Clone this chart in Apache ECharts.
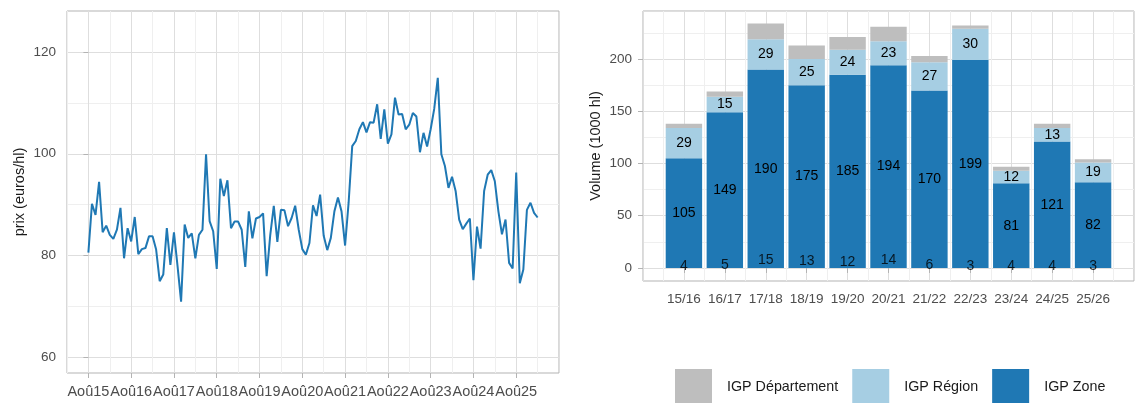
<!DOCTYPE html>
<html><head><meta charset="utf-8">
<script src="https://cdn.jsdelivr.net/npm/echarts@6/dist/echarts.min.js"></script>
<style>html,body{margin:0;padding:0;background:#fff}#c{width:1137px;height:403px}</style>
</head><body><div id="c"></div>
<script>
// ---- Left panel: monthly price, months counted from Aug 2015 ----
const priceTickMonths = [0, 12, 24, 36, 48, 60, 72, 84, 96, 108, 120];
const priceTickLabels = ['Aoû15','Aoû16','Aoû17','Aoû18','Aoû19','Aoû20','Aoû21','Aoû22','Aoû23','Aoû24','Aoû25'];
const priceYTicks = [60, 80, 100, 120];
const prices = [
  80.6, 90.2, 88.0, 94.5, 84.6, 85.9, 84.1, 83.3, 85.1, 89.4, 79.5, 85.4,
  82.8, 87.6, 80.3, 81.3, 81.5, 83.8, 83.8, 81.2, 75.0, 76.3, 85.4, 78.2,
  84.6, 78.0, 71.0, 86.1, 83.5, 84.4, 79.5, 84.1, 85.1, 99.9, 86.8, 84.8,
  77.4, 95.1, 91.7, 94.8, 85.4, 86.7, 86.7, 85.1, 77.8, 88.7, 83.4, 87.3,
  87.6, 88.3, 76.0, 84.0, 89.8, 82.7, 89.0, 88.9, 85.8, 87.4, 89.8, 85.1,
  81.3, 80.2, 82.5, 89.9, 87.8, 92.0, 83.9, 81.1, 83.5, 88.7, 91.4, 88.7,
  82.0, 90.5, 101.5, 102.5, 104.8, 106.2, 104.2, 106.2, 106.1, 109.7, 102.9, 108.7,
  102.0, 103.8, 111.0, 107.7, 107.8, 104.8, 105.7, 108.0, 107.3, 100.3, 104.1, 101.4,
  104.8, 108.8, 114.9, 99.9, 97.6, 93.3, 95.5, 92.7, 87.1, 85.2, 86.3, 87.3,
  75.2, 85.7, 81.4, 92.7, 95.9, 96.8, 94.6, 88.7, 84.2, 87.1, 78.6, 77.5,
  96.3, 74.6, 77.3, 89.0, 90.4, 88.4, 87.5
];

// ---- Right panel: volumes by season ----
const seasons = ['15/16','16/17','17/18','18/19','19/20','20/21','21/22','22/23','23/24','24/25','25/26'];
const igpZone = [105, 149, 190, 175, 185, 194, 170, 199, 81, 121, 82];
const igpRegion = [29, 15, 29, 25, 24, 23, 27, 30, 12, 13, 19];
const igpDepartement = [4, 5, 15, 13, 12, 14, 6, 3, 4, 4, 3];
const volYTicks = [0, 50, 100, 150, 200];

const FONT = "'Liberation Sans', Arial, sans-serif";
const MAJOR = '#dedede', MINOR = '#efefef', NONE = 'rgba(0,0,0,0)';
const TICK = '#b3b3b3', LABEL = '#4d4d4d';
const C_ZONE = '#1f78b4', C_REG = '#a6cee3', C_DEP = '#bebebe';

const pad = arr => [null, ...arr, null];
const cats = ['', ...seasons, ''];

// grid line colour cycles
const leftYCycle = [];
for (let i = 0; i < 20; i++) { const v = 57 + i; leftYCycle.push(v % 20 === 0 ? MAJOR : (v % 10 === 0 ? MINOR : NONE)); }

const chart = echarts.init(document.getElementById('c'), null, {renderer: 'canvas'});
const hiddenAxis = {axisLine: {show: false}, axisTick: {show: false}, axisLabel: {show: false}};

chart.setOption({
  animation: false,
  textStyle: {fontFamily: FONT},
  grid: [
    {left: 67, top: 11, width: 492, height: 362, show: true, borderColor: TICK, borderWidth: 1, backgroundColor: 'transparent'},
    {left: 643, top: 11, width: 493, height: 270, show: true, borderColor: TICK, borderWidth: 1, backgroundColor: 'transparent'}
  ],
  legend: {
    left: 675, top: 369, padding: 0, itemWidth: 37, itemHeight: 37, itemGap: 14, icon: 'rect',
    data: ['IGP Département', 'IGP Région', 'IGP Zone'],
    textStyle: {fontFamily: FONT, fontSize: 14.3, color: '#1a1a1a', padding: [0, 0, 0, 10]},
    selectedMode: false
  },
  xAxis: [
    {gridIndex: 0, type: 'value', min: -6, max: 132,
     axisLine: {show: false},
     axisTick: {show: true, customValues: priceTickMonths, length: 5, lineStyle: {color: TICK}},
     axisLabel: {customValues: priceTickMonths, formatter: v => priceTickLabels[priceTickMonths.indexOf(v)],
                 color: LABEL, fontSize: 14.5, fontFamily: FONT, margin: 11},
     splitLine: {show: false}},
    Object.assign({gridIndex: 0, type: 'value', min: -6, max: 132, interval: 6,
     splitLine: {show: true, lineStyle: {color: [MINOR, MAJOR], width: 1}}}, hiddenAxis),
    {gridIndex: 1, type: 'category', data: cats, boundaryGap: false,
     axisLine: {show: false},
     axisTick: {show: true, length: 5, interval: (i) => i > 0 && i < cats.length - 1, lineStyle: {color: TICK}},
     axisLabel: {interval: 0, color: LABEL, fontSize: 13.5, fontFamily: FONT, margin: 11},
     splitLine: {show: false}},
    Object.assign({gridIndex: 1, type: 'value', min: 0, max: cats.length - 1, interval: 0.5,
     splitLine: {show: true, lineStyle: {color: [MAJOR, MINOR], width: 1}}}, hiddenAxis)
  ],
  yAxis: [
    {gridIndex: 0, type: 'value', min: 57, max: 128,
     name: 'prix (euros/hl)', nameLocation: 'middle', nameGap: 40, nameRotate: 90,
     nameTextStyle: {fontFamily: FONT, fontSize: 14.5, color: '#1a1a1a'},
     axisLine: {show: false},
     axisTick: {show: true, customValues: priceYTicks, length: 5, lineStyle: {color: TICK}},
     axisLabel: {customValues: priceYTicks, color: LABEL, fontSize: 13.5, fontFamily: FONT, margin: 11},
     splitLine: {show: false}},
    Object.assign({gridIndex: 0, type: 'value', min: 57, max: 128, interval: 1,
     splitLine: {show: true, lineStyle: {color: leftYCycle, width: 1}}}, hiddenAxis),
    {gridIndex: 1, type: 'value', min: -12.5, max: 246,
     name: 'Volume (1000 hl)', nameLocation: 'middle', nameGap: 40, nameRotate: 90,
     nameTextStyle: {fontFamily: FONT, fontSize: 14.5, color: '#1a1a1a'},
     axisLine: {show: false},
     axisTick: {show: true, customValues: volYTicks, length: 5, lineStyle: {color: TICK}},
     axisLabel: {customValues: volYTicks, color: LABEL, fontSize: 13.5, fontFamily: FONT, margin: 11},
     splitLine: {show: false}},
    Object.assign({gridIndex: 1, type: 'value', min: -12.5, max: 246, interval: 12.5,
     splitLine: {show: true, lineStyle: {color: [NONE, MAJOR, NONE, MINOR], width: 1}}}, hiddenAxis)
  ],
  series: [
    {type: 'line', name: 'prix', xAxisIndex: 0, yAxisIndex: 0,
     data: prices.map((p, i) => [i, p]), showSymbol: false, symbol: 'none',
     lineStyle: {color: C_ZONE, width: 2}, itemStyle: {color: C_ZONE}, z: 3},
    {type: 'bar', name: 'IGP Zone', xAxisIndex: 2, yAxisIndex: 2, stack: 'vol', barWidth: '89%',
     data: pad(igpZone), itemStyle: {color: C_ZONE},
     label: {show: true, position: 'inside', color: '#000', fontSize: 14, fontFamily: FONT}},
    {type: 'bar', name: 'IGP Région', xAxisIndex: 2, yAxisIndex: 2, stack: 'vol', barWidth: '89%',
     data: pad(igpRegion), itemStyle: {color: C_REG},
     label: {show: true, position: 'inside', color: '#000', fontSize: 14, fontFamily: FONT}},
    {type: 'bar', name: 'IGP Département', xAxisIndex: 2, yAxisIndex: 2, stack: 'vol', barWidth: '89%',
     data: pad(igpDepartement), itemStyle: {color: C_DEP}, label: {show: false}},
    {type: 'scatter', name: 'depLabels', xAxisIndex: 2, yAxisIndex: 2, symbolSize: 0, silent: true,
     data: seasons.map((s, i) => ({value: [s, igpDepartement[i] / 2], lab: igpDepartement[i]})),
     label: {show: true, position: 'inside', color: '#000', fontSize: 14, fontFamily: FONT,
             formatter: p => String(p.data.lab)}, z: 5}
  ]
});
</script></body></html>
